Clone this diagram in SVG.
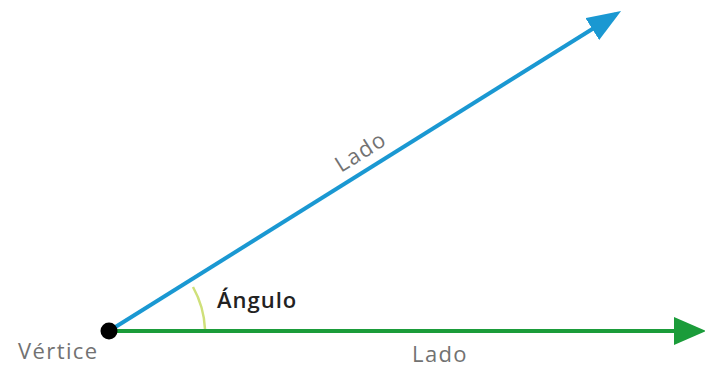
<svg xmlns="http://www.w3.org/2000/svg" width="705" height="367" viewBox="0 0 705 367">
<style>
.lbl{font-family:"Open Sans","Noto Sans","Liberation Sans",sans-serif;font-size:22px;letter-spacing:1.4px;fill:#727272}
.ang{font-family:"Open Sans","Noto Sans","Liberation Sans",sans-serif;font-size:22px;letter-spacing:1px;font-weight:600;fill:#222}
.side{fill:none;stroke-width:4}
</style>
<defs>
<marker id="ab" viewBox="0 0 34 26" markerUnits="userSpaceOnUse" markerWidth="34" markerHeight="26" refX="28" refY="13" orient="auto"><path d="M0,0 L34,13 L0,26 z" fill="#1a98d2"/></marker>
<marker id="ag" viewBox="0 0 32 28" markerUnits="userSpaceOnUse" markerWidth="32" markerHeight="28" refX="26" refY="14" orient="auto"><path d="M0,0 L32,14 L0,28 z" fill="#1b9c3a"/></marker>
</defs>
<rect width="705" height="367" fill="#fff"/>
<g id="connectors">
<line class="side" x1="109" y1="331" x2="616" y2="14.2" stroke="#1a98d2" marker-end="url(#ab)"/>
<line class="side" x1="109" y1="331" x2="700" y2="331" stroke="#1b9c3a" marker-end="url(#ag)"/>
<path d="M193,287 A96,96 0 0 1 205,329" fill="none" stroke="#cfe07a" stroke-width="2.5"/>
</g>
<g id="vertex">
<circle cx="109" cy="331" r="8.5" fill="#000"/>
<text class="lbl" x="18" y="359">Vértice</text>
</g>
<g id="lado1">
<text class="lbl" transform="translate(341,173) rotate(-32)">Lado</text>
</g>
<g id="lado2">
<text class="lbl" x="412" y="362">Lado</text>
</g>
<g id="angulo">
<text class="ang" x="217" y="308">Ángulo</text>
</g>
</svg>
